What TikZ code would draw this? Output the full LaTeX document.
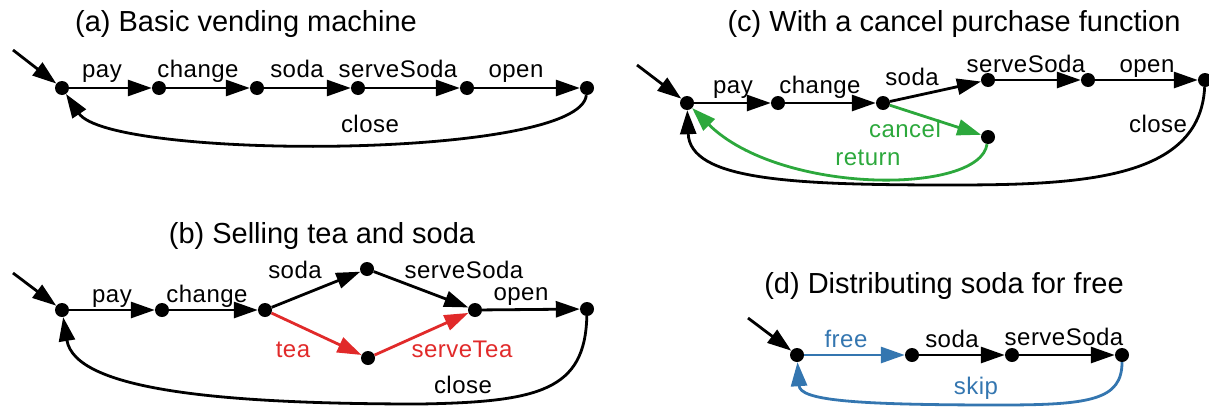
\documentclass[tikz,border=0pt]{standalone}
\usepackage{fontspec}
\setmainfont{Liberation Sans}
\newfontfamily\lblfont[LetterSpace=2]{Liberation Sans}
\usetikzlibrary{arrows.meta}

\definecolor{cancelgreen}{RGB}{44,168,60}
\definecolor{teared}{RGB}{225,42,42}
\definecolor{freeblue}{RGB}{52,118,176}

\tikzset{
  state/.style={circle, fill=black, inner sep=0pt, minimum size=14pt},
  trans/.style={line width=2.8pt, -{Triangle[length=24pt,width=16pt]}},
  lbl/.style={anchor=base, inner sep=0pt, font=\lblfont\fontsize{24}{28}\selectfont},
  ttl/.style={anchor=base, inner sep=0pt, font=\fontsize{29}{33}\selectfont},
}

\begin{document}
\begin{tikzpicture}[x=1pt,y=-1pt]
\useasboundingbox (0,0) rectangle (1209,407);

% ---------- (a) basic machine ----------
\node[ttl] (ta) at (246,31) {(a) Basic vending machine};
\coordinate (a0) at (13,50);
\node[state] (a1) at (62,88) {};
\node[state] (a2) at (159,88) {};
\node[state] (a3) at (257,88) {};
\node[state] (a4) at (358,88) {};
\node[state] (a5) at (467,88) {};
\node[state] (a6) at (587,88) {};
\draw[trans] (a0) -- (a1);
\draw[trans] (a1) -- (a2);
\draw[trans] (a2) -- (a3);
\draw[trans] (a3) -- (a4);
\draw[trans] (a4) -- (a5);
\draw[trans] (a5) -- (a6);
\draw[trans] (a6) .. controls (580,160) and (110,160) .. (a1);
\node[lbl] (la1) at (102,77) {pay};
\node[lbl] (la2) at (198,77) {change};
\node[lbl] (la3) at (297,77) {soda};
\node[lbl] (la4) at (398,77) {serveSoda};
\node[lbl] (la5) at (516,77) {open};
\node[lbl] (la6) at (370,132) {close};

% ---------- (b) tea and soda ----------
\node[ttl] (tb) at (322,243) {(b) Selling tea and soda};
\coordinate (b0) at (13,273);
\node[state] (b1) at (62,310) {};
\node[state] (b2) at (162,310) {};
\node[state] (b3) at (265,310) {};
\node[state] (b4) at (367,269) {};
\node[state] (b5) at (475,310) {};
\node[state] (b6) at (587,309) {};
\node[state] (b7) at (368,358) {};
\coordinate (bm) at (420,404);
\draw[trans] (b0) -- (b1);
\draw[trans] (b1) -- (b2);
\draw[trans] (b2) -- (b3);
\draw[trans] (b3) -- (b4);
\draw[trans] (b4) -- (b5);
\draw[trans, teared] (b3) -- (b7);
\draw[trans, teared] (b7) -- (b5);
\draw[trans] (b5) -- (b6);
\draw[trans] (b6) .. controls (585,390) and (540,402) .. (bm)
                  .. controls (220,404) and (75,390) .. (b1);
\node[lbl] (lb1) at (112,302) {pay};
\node[lbl] (lb2) at (207,302) {change};
\node[lbl] (lb3) at (295,278) {soda};
\node[lbl] (lb4) at (464,278) {serveSoda};
\node[lbl] (lb5) at (521,300) {open};
\node[lbl, text=teared] (lb6) at (293,357) {tea};
\node[lbl, text=teared] (lb7) at (462,357) {serveTea};
\node[lbl] (lb8) at (463,393) {close};

% ---------- (c) cancel purchase ----------
\node[ttl] (tc) at (954,31) {(c) With a cancel purchase function};
\coordinate (c0) at (637,65);
\node[state] (c1) at (687,103) {};
\node[state] (c2) at (778,103) {};
\node[state] (c3) at (883,103) {};
\node[state] (c4) at (988,80) {};
\node[state] (c5) at (1088,80) {};
\node[state] (c6) at (1205,80) {};
\node[state] (cg) at (988,137) {};
\coordinate (cm) at (950,185);
\draw[trans] (c0) -- (c1);
\draw[trans] (c1) -- (c2);
\draw[trans] (c2) -- (c3);
\draw[trans] (c3) -- (c4);
\draw[trans] (c4) -- (c5);
\draw[trans] (c5) -- (c6);
\draw[trans] (c6) .. controls (1200,180) and (1080,185) .. (cm)
                  .. controls (790,185) and (690,180) .. (c1);
\draw[trans, cancelgreen] (c3) -- (cg);
\draw[trans, cancelgreen] (cg) .. controls (980,195) and (780,195) .. (c1);
\node[lbl] (lc1) at (733,93) {pay};
\node[lbl] (lc2) at (820,93) {change};
\node[lbl] (lc3) at (912,85) {soda};
\node[lbl] (lc4) at (1026,72) {serveSoda};
\node[lbl] (lc5) at (1147,72) {open};
\node[lbl] (lc6) at (1158,132) {close};
\node[lbl, text=cancelgreen] (lc7) at (905,137) {cancel};
\node[lbl, text=cancelgreen] (lc8) at (868,165) {return};

% ---------- (d) free soda ----------
\node[ttl] (td) at (944,293) {(d) Distributing soda for free};
\coordinate (d0) at (748,318);
\node[state] (d1) at (797,355) {};
\node[state] (d2) at (912,355) {};
\node[state] (d3) at (1012,355) {};
\node[state] (d4) at (1122,355) {};
\coordinate (dm) at (1000,405);
\draw[trans] (d0) -- (d1);
\draw[trans, freeblue] (d1) -- (d2);
\draw[trans] (d2) -- (d3);
\draw[trans] (d3) -- (d4);
\draw[trans, freeblue] (d4) .. controls (1122,400) and (1090,405) .. (dm)
                            .. controls (850,405) and (800,400) .. (d1);
\node[lbl, text=freeblue] (ld1) at (846,347) {free};
\node[lbl] (ld2) at (952,347) {soda};
\node[lbl] (ld3) at (1064,345) {serveSoda};
\node[lbl, text=freeblue] (ld4) at (976,394) {skip};
\end{tikzpicture}
\end{document}
